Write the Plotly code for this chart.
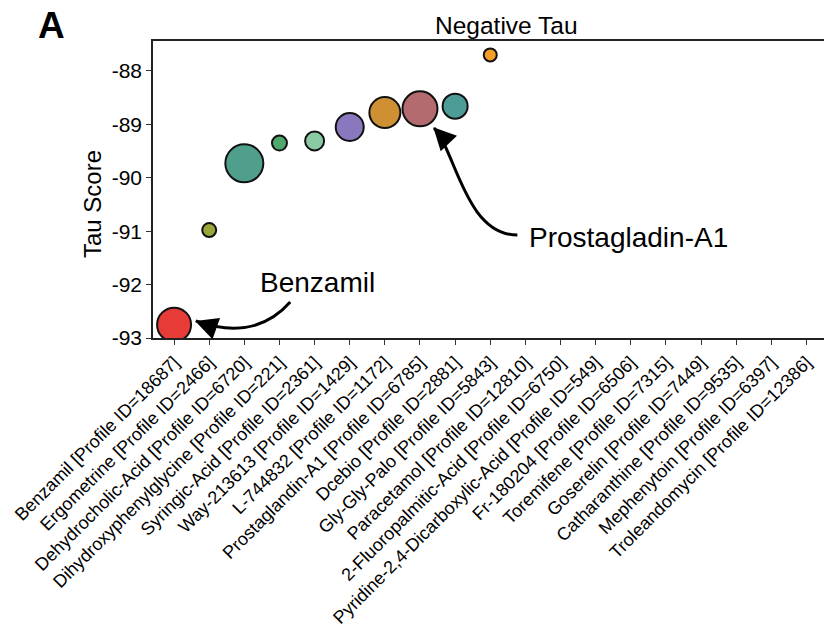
import plotly.graph_objects as go

# ---------------- data ----------------
categories = [
    "Benzamil [Profile ID=18687]",
    "Ergometrine [Profile ID=2466]",
    "Dehydrocholic-Acid [Profile ID=6720]",
    "Dihydroxyphenylglycine [Profile ID=221]",
    "Syringic-Acid [Profile ID=2361]",
    "Way-213613 [Profile ID=1429]",
    "L-744832 [Profile ID=1172]",
    "Prostaglandin-A1 [Profile ID=6785]",
    "Dcebio [Profile ID=2881]",
    "Gly-Gly-Palo [Profile ID=5843]",
    "Paracetamol [Profile ID=12810]",
    "2-Fluoropalmitic-Acid [Profile ID=6750]",
    "Pyridine-2,4-Dicarboxylic-Acid [Profile ID=549]",
    "Fr-180204 [Profile ID=6506]",
    "Toremifene [Profile ID=7315]",
    "Goserelin [Profile ID=7449]",
    "Catharanthine [Profile ID=9535]",
    "Mephenytoin [Profile ID=6397]",
    "Troleandomycin [Profile ID=12386]",
]
tau_scores = [-92.75, -90.98, -89.73, -89.35, -89.31, -89.05, -88.78, -88.71, -88.66, -87.70]
bubble_size = [34, 14, 38, 15, 19, 28, 31, 35, 25, 13]
colors = ["#E63B36", "#9BA63A", "#509F8D", "#4EA86B", "#8ACBA4",
          "#8A78BE", "#CF8F33", "#B46B6F", "#4E9C98", "#F59E25"]
y_ticks = [-93, -92, -91, -90, -89, -88]

FONT = "Liberation Sans, Arial, Helvetica, sans-serif"

x_pos = list(range(len(tau_scores)))

fig = go.Figure()
fig.add_trace(go.Scatter(
    x=x_pos, y=tau_scores, mode="markers",
    marker=dict(size=bubble_size, color=colors, opacity=1,
                line=dict(color="#111111", width=2)),
    cliponaxis=True, showlegend=False, hoverinfo="skip",
))

# --------- curved arrows (relative to the annotated points) ---------
bx, by = x_pos[0], tau_scores[0]
px, py = x_pos[7], tau_scores[7]

benz_path = (f"M {bx+3.305},{by+0.423} Q {bx+2.308},{by-0.325} {bx+0.62},{by+0.07}")
prost_path = (f"M {px+2.772},{py-2.363} C {px+1.291},{py-2.363} "
              f"{px+1.006},{py-0.773} {px+0.40},{py-0.36}")

shapes = [
    dict(type="path", path=benz_path, xref="x", yref="y",
         line=dict(color="black", width=3), layer="above"),
    dict(type="path", path=prost_path, xref="x", yref="y",
         line=dict(color="black", width=3), layer="above"),
]

annotations = [
    # arrowheads
    dict(x=bx + 0.598, y=by + 0.068, xref="x", yref="y", text="", showarrow=True,
         ax=14, ay=5, arrowhead=2, arrowsize=1.5, arrowwidth=3, arrowcolor="black",
         standoff=0),
    dict(x=px + 0.379, y=py - 0.343, xref="x", yref="y", text="", showarrow=True,
         ax=10, ay=10.5, arrowhead=2, arrowsize=1.5, arrowwidth=3, arrowcolor="black",
         standoff=0),
    # labels
    dict(x=bx + 4.07, y=by + 0.79, xref="x", yref="y", text="Benzamil",
         showarrow=False, xanchor="center", yanchor="middle",
         font=dict(family=FONT, size=28, color="black")),
    dict(x=px + 5.93, y=py - 2.40, xref="x", yref="y", text="Prostagladin-A1",
         showarrow=False, xanchor="center", yanchor="middle",
         font=dict(family=FONT, size=28, color="black")),
    # title
    dict(x=(506.5 - 153) / 671, y=1 + (41 - 25) / 297, xref="paper", yref="paper",
         text="Negative Tau", showarrow=False, xanchor="center", yanchor="middle",
         font=dict(family=FONT, size=24.5, color="black")),
    # y-axis title
    dict(x=(92 - 153) / 671, y=(338 - 204) / 297, xref="paper", yref="paper",
         text="Tau Score", textangle=-90, showarrow=False,
         xanchor="center", yanchor="middle",
         font=dict(family=FONT, size=24, color="black")),
    # panel letter
    dict(x=(51 - 153) / 671, y=1 + (41 - 26) / 297, xref="paper", yref="paper",
         text="<b>A</b>", showarrow=False, xanchor="center", yanchor="middle",
         font=dict(family=FONT, size=37, color="black")),
]

fig.update_layout(
    width=824, height=631,
    margin=dict(l=153, r=0, t=41, b=293, pad=0, autoexpand=False),
    paper_bgcolor="white", plot_bgcolor="white",
    shapes=shapes, annotations=annotations,
    font=dict(family=FONT, color="black"),
)
fig.update_xaxes(
    range=[-0.6, 18.5], tickmode="array", tickvals=list(range(len(categories))),
    ticktext=categories, tickangle=-45, ticks="outside", ticklen=5, tickwidth=1.2,
    tickcolor="#333333", showline=True, linecolor="#222222", linewidth=1.5,
    mirror=True, showgrid=False, zeroline=False, automargin=False,
    tickfont=dict(family=FONT, size=18, color="black"),
)
fig.update_yaxes(
    range=[-93, -87.44], tickmode="array", tickvals=y_ticks,
    ticktext=[str(v) for v in y_ticks], ticks="outside", ticklen=5, tickwidth=1.2,
    tickcolor="#333333", showline=True, linecolor="#222222", linewidth=1.5,
    mirror=False, showgrid=False, zeroline=False, automargin=False,
    tickfont=dict(family=FONT, size=21, color="black"),
)

fig.write_html("out.html")
